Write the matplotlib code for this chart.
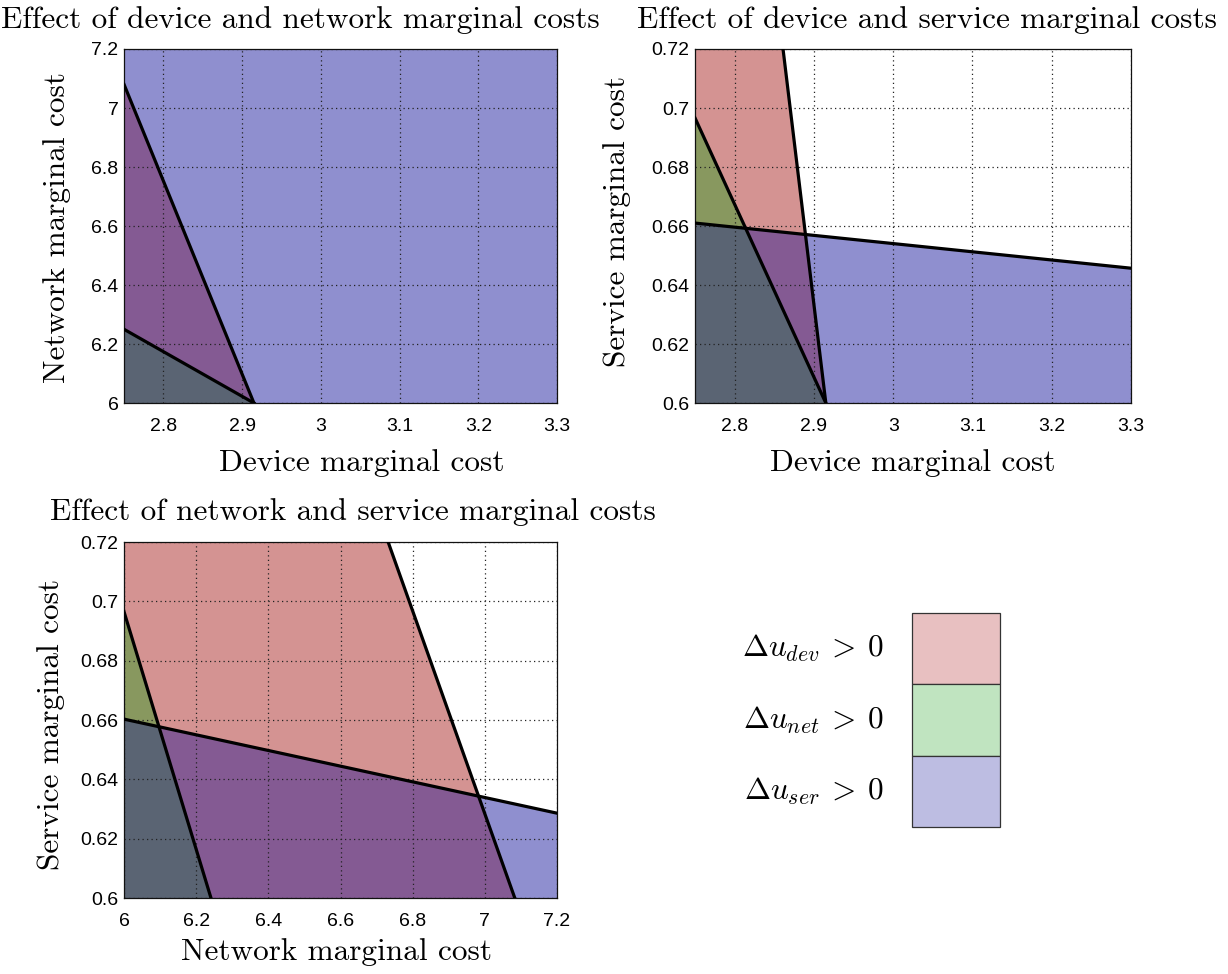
import numpy as np
import matplotlib
matplotlib.use('Agg')
import matplotlib.pyplot as plt
from matplotlib.ticker import FuncFormatter

plt.rcParams['mathtext.fontset'] = 'cm'

# axis ranges and ticks
device_range = [2.75, 3.3]
network_range = [6.0, 7.2]
service_range = [0.6, 0.72]
device_ticks = [2.8, 2.9, 3.0, 3.1, 3.2, 3.3]
network_ticks = [6.0, 6.2, 6.4, 6.6, 6.8, 7.0, 7.2]
service_ticks = [0.6, 0.62, 0.64, 0.66, 0.68, 0.7, 0.72]

# boundary lines (x ends, y ends) of du_dev=0, du_net=0, du_ser=0
dn_dev = ([2.75, 2.915], [7.08, 6.0])
dn_net = ([2.75, 2.915], [6.25, 6.0])
dn_ser = None  # du_ser > 0 on the whole panel

ds_dev = ([2.861, 2.915], [0.72, 0.60])
ds_net = ([2.75, 2.915], [0.6966, 0.60])
ds_ser = ([2.75, 3.3], [0.661, 0.6457])

ns_dev = ([6.732, 7.083], [0.72, 0.60])
ns_net = ([6.0, 6.241], [0.6965, 0.60])
ns_ser = ([6.0, 7.2], [0.6603, 0.6286])

# colour of each overlap (dev, net, ser)
region_colors = {
    (0, 0, 0): '#ffffff',
    (1, 0, 0): '#d49392',
    (0, 1, 0): '#a9cfa9',
    (0, 0, 1): '#8f8fcf',
    (1, 1, 0): '#88985f',
    (1, 0, 1): '#845a93',
    (0, 1, 1): '#7a95a5',
    (1, 1, 1): '#5a6473',
}

legend_labels = [r'$\Delta u_{dev}\:>\:0$', r'$\Delta u_{net}\:>\:0$', r'$\Delta u_{ser}\:>\:0$']
legend_colors = ['#e8c0c1', '#c0e4c0', '#bdbde2']

serif = 'cmr10'
tick_font = 'Liberation Sans'


def inside(line, X, Y, corner):
    if line is None:
        return np.ones_like(X, dtype=bool)
    (x0, x1), (y0, y1) = line
    cross = lambda px, py: (x1 - x0) * (py - y0) - (y1 - y0) * (px - x0)
    return np.sign(cross(X, Y)) == np.sign(cross(*corner))


def hexrgb(h):
    return [int(h[i:i + 2], 16) / 255 for i in (1, 3, 5)]


def panel(ax, xr, yr, xt, yt, lines):
    n = 900
    xs = np.linspace(xr[0], xr[1], n)
    ys = np.linspace(yr[0], yr[1], n)
    X, Y = np.meshgrid(xs, ys)
    corner = (xr[0], yr[0])
    masks = [inside(l, X, Y, corner) for l in lines]
    img = np.ones((n, n, 3))
    for key, col in region_colors.items():
        m = (masks[0] == key[0]) & (masks[1] == key[1]) & (masks[2] == key[2])
        img[m] = hexrgb(col)
    ax.imshow(img, extent=[xr[0], xr[1], yr[0], yr[1]], origin='lower',
              aspect='auto', interpolation='nearest', zorder=0)
    for l in lines:
        if l is not None:
            ax.plot(l[0], l[1], color='black', lw=2.3, zorder=3)
    ax.set_xlim(xr)
    ax.set_ylim(yr)
    ax.set_xticks(xt)
    ax.set_yticks(yt)
    fmt = FuncFormatter(lambda v, p: '%g' % round(v, 4))
    ax.xaxis.set_major_formatter(fmt)
    ax.yaxis.set_major_formatter(fmt)
    ax.grid(True, linestyle=(0, (1, 2.6)), color='#222222', lw=0.9, zorder=1)
    ax.tick_params(length=0, labelsize=14)
    ax.tick_params(axis='x', pad=11)
    ax.tick_params(axis='y', pad=4)
    for lab in ax.get_xticklabels() + ax.get_yticklabels():
        lab.set_fontfamily(tick_font)
    for s in ax.spines.values():
        s.set_linewidth(0.9)
        s.set_color('#111111')


fig = plt.figure(figsize=(12.28, 9.74), dpi=100)

ax1 = fig.add_axes([0.1010, 0.5862, 0.3526, 0.3635])
ax2 = fig.add_axes([0.5660, 0.5862, 0.3550, 0.3635])
ax3 = fig.add_axes([0.1010, 0.0780, 0.3526, 0.3655])

panel(ax1, device_range, network_range, device_ticks, network_ticks, [dn_dev, dn_net, dn_ser])
panel(ax2, device_range, service_range, device_ticks, service_ticks, [ds_dev, ds_net, ds_ser])
panel(ax3, network_range, service_range, network_ticks, service_ticks, [ns_dev, ns_net, ns_ser])

fs = 22.5
fig.text(0.2443, 0.9795, 'Effect of device and network marginal costs', ha='center', va='center', fontsize=fs, family=serif)
fig.text(0.7550, 0.9795, 'Effect of device and service marginal costs', ha='center', va='center', fontsize=fs, family=serif)
fig.text(0.2875, 0.4743, 'Effect of network and service marginal costs', ha='center', va='center', fontsize=fs, family=serif)

fig.text(0.2948, 0.5246, 'Device marginal cost', ha='center', va='center', fontsize=fs, family=serif)
fig.text(0.7435, 0.5246, 'Device marginal cost', ha='center', va='center', fontsize=fs, family=serif)
fig.text(0.2744, 0.0226, 'Network marginal cost', ha='center', va='center', fontsize=fs, family=serif)

fig.text(0.0464, 0.766, 'Network marginal cost', ha='center', va='center', rotation=90, fontsize=fs, family=serif)
fig.text(0.5024, 0.773, 'Service marginal cost', ha='center', va='center', rotation=90, fontsize=fs, family=serif)
fig.text(0.0418, 0.2567, 'Service marginal cost', ha='center', va='center', rotation=90, fontsize=fs, family=serif)

# legend: stacked colour boxes with labels on the left
axl = fig.add_axes([0.7427, 0.1509, 0.0716, 0.2197])
for i, (lab, col) in enumerate(zip(legend_labels, legend_colors)):
    axl.bar(0.5, 1, bottom=2 - i, width=1, color=col, edgecolor='#333333', lw=0.9, clip_on=False)
    axl.text(-0.32, 2.5 - i, lab, ha='right', va='center', fontsize=fs)
axl.set_xlim(0, 1)
axl.set_ylim(0, 3)
axl.axis('off')

fig.savefig('out.png', dpi=100)
